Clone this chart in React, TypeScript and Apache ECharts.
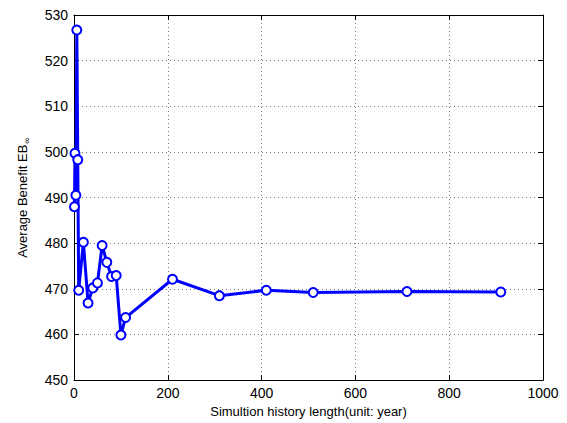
import React, { useEffect, useRef } from "react";
import * as echarts from "echarts";

const historyLength = [1, 2, 4, 6, 8, 10, 20, 30, 40, 50, 60, 70, 80, 90, 100, 110, 210, 310, 410, 510, 710, 910];
const avgBenefit = [488.0, 499.7, 490.5, 526.7, 498.3, 469.7, 480.2, 466.9, 470.2, 471.3, 479.5, 475.8, 472.7, 472.9, 459.9, 463.7, 472.1, 468.5, 469.7, 469.2, 469.4, 469.3];

const xTitle = "Simultion history length(unit: year)";
const yTitleMain = "Average Benefit EB";
const yTitleSub = "∞";

const FONT = "Liberation Sans, Arial, Helvetica, sans-serif";

export default function App() {
  const ref = useRef<HTMLDivElement>(null);
  useEffect(() => {
    const chart = echarts.init(ref.current!, null, { renderer: "svg" });
    const gridLine = { show: true, lineStyle: { color: "#777", width: 1, type: [1, 3] as any } };
    const axisLine = { show: true, onZero: false, lineStyle: { color: "#000", width: 1 } };
    const axisTick = { show: true, inside: true, length: 5, lineStyle: { color: "#000" } };
    chart.setOption({
      animation: false,
      backgroundColor: "#fff",
      grid: { left: 74, right: 24, top: 15, bottom: 41, containLabel: false },
      xAxis: [
        {
          type: "value", min: 0, max: 1000, interval: 200,
          axisLine, axisTick, splitLine: gridLine,
          axisLabel: { color: "#000", fontSize: 14, fontFamily: FONT, margin: 6, formatter: (v: number) => String(v) },
          name: xTitle, nameLocation: "middle", nameGap: 22,
          nameTextStyle: { color: "#000", fontSize: 13, fontFamily: FONT },
        },
        {
          type: "value", position: "top", min: 0, max: 1000, interval: 200,
          axisLine, axisTick, splitLine: { show: false }, axisLabel: { show: false },
        },
      ],
      yAxis: [
        {
          type: "value", min: 450, max: 530, interval: 10,
          axisLine, axisTick, splitLine: gridLine,
          axisLabel: { color: "#000", fontSize: 14, fontFamily: FONT, margin: 6 },
          name: `{a|${yTitleMain}}{b|${yTitleSub}}`, nameLocation: "middle", nameGap: 43,
          nameTextStyle: {
            color: "#000", fontSize: 13, fontFamily: FONT,
            rich: {
              a: { fontSize: 13, fontFamily: FONT, color: "#000" },
              b: { fontSize: 9, fontFamily: FONT, color: "#000", padding: [9, 0, 0, 1] },
            },
          },
        },
        {
          type: "value", position: "right", min: 450, max: 530, interval: 10,
          axisLine, axisTick, splitLine: { show: false }, axisLabel: { show: false },
        },
      ],
      series: [
        {
          type: "line",
          data: historyLength.map((x, i) => [x, avgBenefit[i]]),
          symbol: "emptyCircle",
          symbolSize: 9,
          showAllSymbol: true,
          lineStyle: { color: "#0000ff", width: 3 },
          itemStyle: { color: "#0000ff", borderColor: "#0000ff", borderWidth: 3 },
          clip: false,
        },
      ],
    });
    return () => chart.dispose();
  }, []);
  return (
    <div
      ref={ref}
      style={{ position: "fixed", left: 0, top: 0, width: 567, height: 423, background: "#fff" }}
    />
  );
}
